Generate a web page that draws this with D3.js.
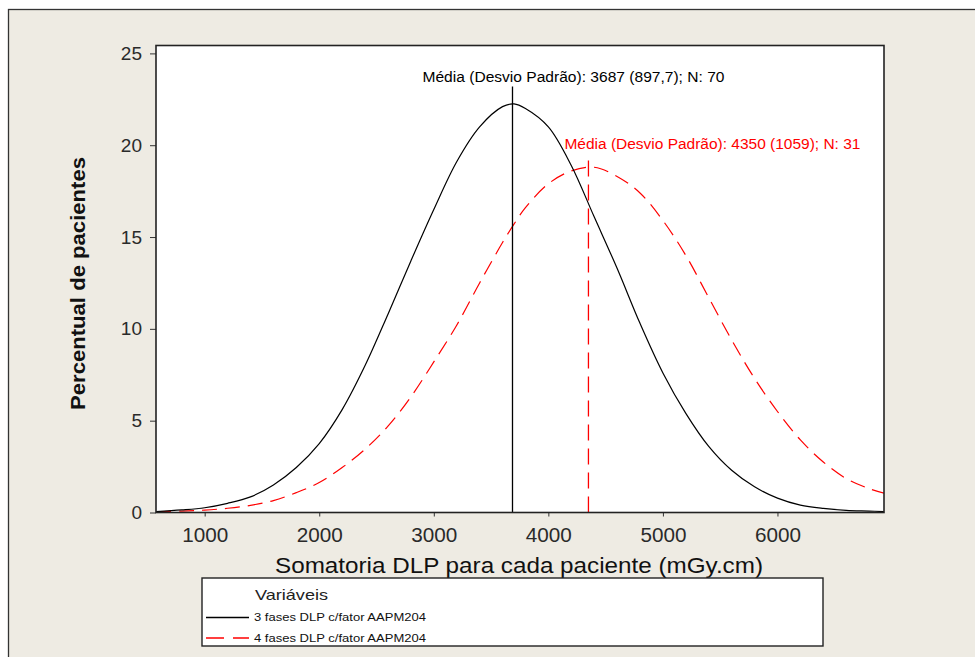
<!DOCTYPE html>
<html>
<head>
<meta charset="utf-8">
<script src="https://cdn.jsdelivr.net/npm/d3@7"></script>
<style>
body { margin: 0; background: #fff; }
svg text { font-family: "Liberation Sans", Arial, sans-serif; }
</style>
</head>
<body>
<svg id="chart" width="975" height="657"></svg>
<script>
// values (percent of patients vs DLP sum)
const dlp = [575, 800, 1000, 1200, 1400, 1600, 1800, 2000, 2200, 2400, 2600, 2800, 3000, 3200, 3400, 3600, 3700,
             3800, 4000, 4200, 4400, 4600, 4800, 5000, 5200, 5400, 5600, 5800, 6000, 6200, 6400, 6600, 6800, 6930];
const threePhases = [0.05, 0.14, 0.26, 0.5, 0.85, 1.5, 2.45, 3.75, 5.6, 8.0, 10.8, 13.7, 16.5, 19.1, 21.0, 22.1, 22.25,
                     22.0, 21.0, 18.9, 16.1, 13.3, 10.3, 7.6, 5.4, 3.6, 2.3, 1.4, 0.78, 0.4, 0.22, 0.12, 0.08, 0.05];
const fourPhases = [0.03, 0.08, 0.13, 0.23, 0.39, 0.65, 1.08, 1.63, 2.45, 3.45, 4.7, 6.3, 8.2, 10.2, 12.5, 14.7, 15.7,
                    16.6, 17.9, 18.6, 18.8, 18.3, 17.4, 15.9, 14.0, 11.7, 9.4, 7.3, 5.5, 3.95, 2.75, 1.85, 1.3, 1.05];

const xTicks = [1000, 2000, 3000, 4000, 5000, 6000];
const yTicks = [0, 5, 10, 15, 20, 25];

const seriesNames = ["3 fases DLP c/fator AAPM204", "4 fases DLP c/fator AAPM204"];
const means = [3687, 4350];
const stdevs = ["897,7", "1059"];
const counts = [70, 31];
const meanLineTop = [23.2, 19.6];

const svg = d3.select("#chart");

// outer panel
svg.append("rect")
   .attr("x", 8.5).attr("y", 9.5)
   .attr("width", 1000).attr("height", 700)
   .attr("fill", "#eeebe3")
   .attr("stroke", "#333").attr("stroke-width", 1.3);

const plotLeft = 156, plotRight = 884, plotTop = 45.5, plotBottom = 512.5;

let x = d3.scaleLinear().domain([575, 6930]).range([plotLeft, plotRight]);
let y = d3.scaleLinear().domain([0, 25.43]).range([plotBottom, plotTop]);

svg.append("rect")
   .attr("x", plotLeft).attr("y", plotTop)
   .attr("width", plotRight - plotLeft).attr("height", plotBottom - plotTop)
   .attr("fill", "#fff");

svg.append("clipPath").attr("id", "plotClip")
   .append("rect")
   .attr("x", plotLeft).attr("y", plotTop)
   .attr("width", plotRight - plotLeft).attr("height", plotBottom - plotTop);

// axes
let xAxis = svg.append("g")
   .attr("transform", `translate(0,${plotBottom})`)
   .call(d3.axisBottom(x).tickValues(xTicks).tickSize(4).tickPadding(11).tickFormat(d3.format("d")));
xAxis.select(".domain").remove();
xAxis.selectAll("line").attr("stroke", "#333");
xAxis.selectAll("text")
     .attr("font-size", 20).attr("fill", "#2a2a2a")
     .attr("font-family", "Liberation Sans, Arial, sans-serif")
     .attr("textLength", 46).attr("lengthAdjust", "spacingAndGlyphs");

let yAxis = svg.append("g")
   .attr("transform", `translate(${plotLeft},0)`)
   .call(d3.axisLeft(y).tickValues(yTicks).tickSize(6).tickPadding(8));
yAxis.select(".domain").remove();
yAxis.selectAll("line").attr("stroke", "#333");
yAxis.selectAll("text")
     .attr("font-size", 19).attr("fill", "#2a2a2a")
     .attr("font-family", "Liberation Sans, Arial, sans-serif");

// curves
let line = d3.line().x((d, i) => x(dlp[i])).y(d => y(d)).curve(d3.curveCatmullRom.alpha(0.5));
let plot = svg.append("g").attr("clip-path", "url(#plotClip)");

plot.append("path")
    .datum(fourPhases)
    .attr("fill", "none")
    .attr("stroke", "#ff0000")
    .attr("stroke-width", 1.2)
    .attr("stroke-dasharray", "15,8")
    .attr("d", line);

plot.append("path")
    .datum(threePhases)
    .attr("fill", "none")
    .attr("stroke", "#000")
    .attr("stroke-width", 1.2)
    .attr("d", line);

// mean reference lines and labels
const refColors = ["#000", "#ff0000"];
const labelShift = [-90, -24];
const labelWidth = [302, 296];
means.forEach((m, i) => {
  plot.append("line")
      .attr("x1", x(m)).attr("x2", x(m))
      .attr("y1", y(0)).attr("y2", y(meanLineTop[i]))
      .attr("stroke", refColors[i])
      .attr("stroke-width", 1.3)
      .attr("stroke-dasharray", i == 1 ? "16,8" : null);
  svg.append("text")
     .attr("x", x(m) + labelShift[i])
     .attr("y", y(meanLineTop[i]) - 4)
     .attr("font-size", 15.5)
     .attr("fill", refColors[i])
     .attr("textLength", labelWidth[i])
     .attr("lengthAdjust", "spacingAndGlyphs")
     .text(`Média (Desvio Padrão): ${m} (${stdevs[i]}); N: ${counts[i]}`);
});

// plot frame
svg.append("rect")
   .attr("x", plotLeft).attr("y", plotTop)
   .attr("width", plotRight - plotLeft).attr("height", plotBottom - plotTop)
   .attr("fill", "none")
   .attr("stroke", "#222").attr("stroke-width", 1.6);

// axis titles
svg.append("text")
   .attr("x", (plotLeft + plotRight) / 2 - 1).attr("y", 573)
   .attr("text-anchor", "middle")
   .attr("font-size", 22)
   .attr("fill", "#111")
   .attr("textLength", 488).attr("lengthAdjust", "spacingAndGlyphs")
   .text("Somatoria DLP para cada paciente (mGy.cm)");

svg.append("text")
   .attr("transform", "translate(85,283.5) rotate(-90)")
   .attr("text-anchor", "middle")
   .attr("font-size", 19.5)
   .attr("font-weight", "bold")
   .attr("fill", "#111")
   .attr("textLength", 253).attr("lengthAdjust", "spacingAndGlyphs")
   .text("Percentual de pacientes");

// legend
let legend = svg.append("g");
legend.append("rect")
      .attr("x", 202).attr("y", 578)
      .attr("width", 621).attr("height", 68)
      .attr("fill", "#fff")
      .attr("stroke", "#222").attr("stroke-width", 1.4);
legend.append("text")
      .attr("x", 255).attr("y", 599.5)
      .attr("font-size", 15).attr("fill", "#222")
      .attr("textLength", 73).attr("lengthAdjust", "spacingAndGlyphs")
      .text("Variáveis");
seriesNames.forEach((name, i) => {
  let yy = 617.5 + i * 20.5;
  legend.append("line")
        .attr("x1", 206).attr("x2", 249)
        .attr("y1", yy).attr("y2", yy)
        .attr("stroke", refColors[i])
        .attr("stroke-width", 1.3)
        .attr("stroke-dasharray", i == 1 ? "18,9" : null);
  legend.append("text")
        .attr("x", 254).attr("y", yy + 3.5)
        .attr("font-size", 11.5).attr("fill", "#111")
        .attr("textLength", 172).attr("lengthAdjust", "spacingAndGlyphs")
        .text(name);
});
</script>
</body>
</html>
